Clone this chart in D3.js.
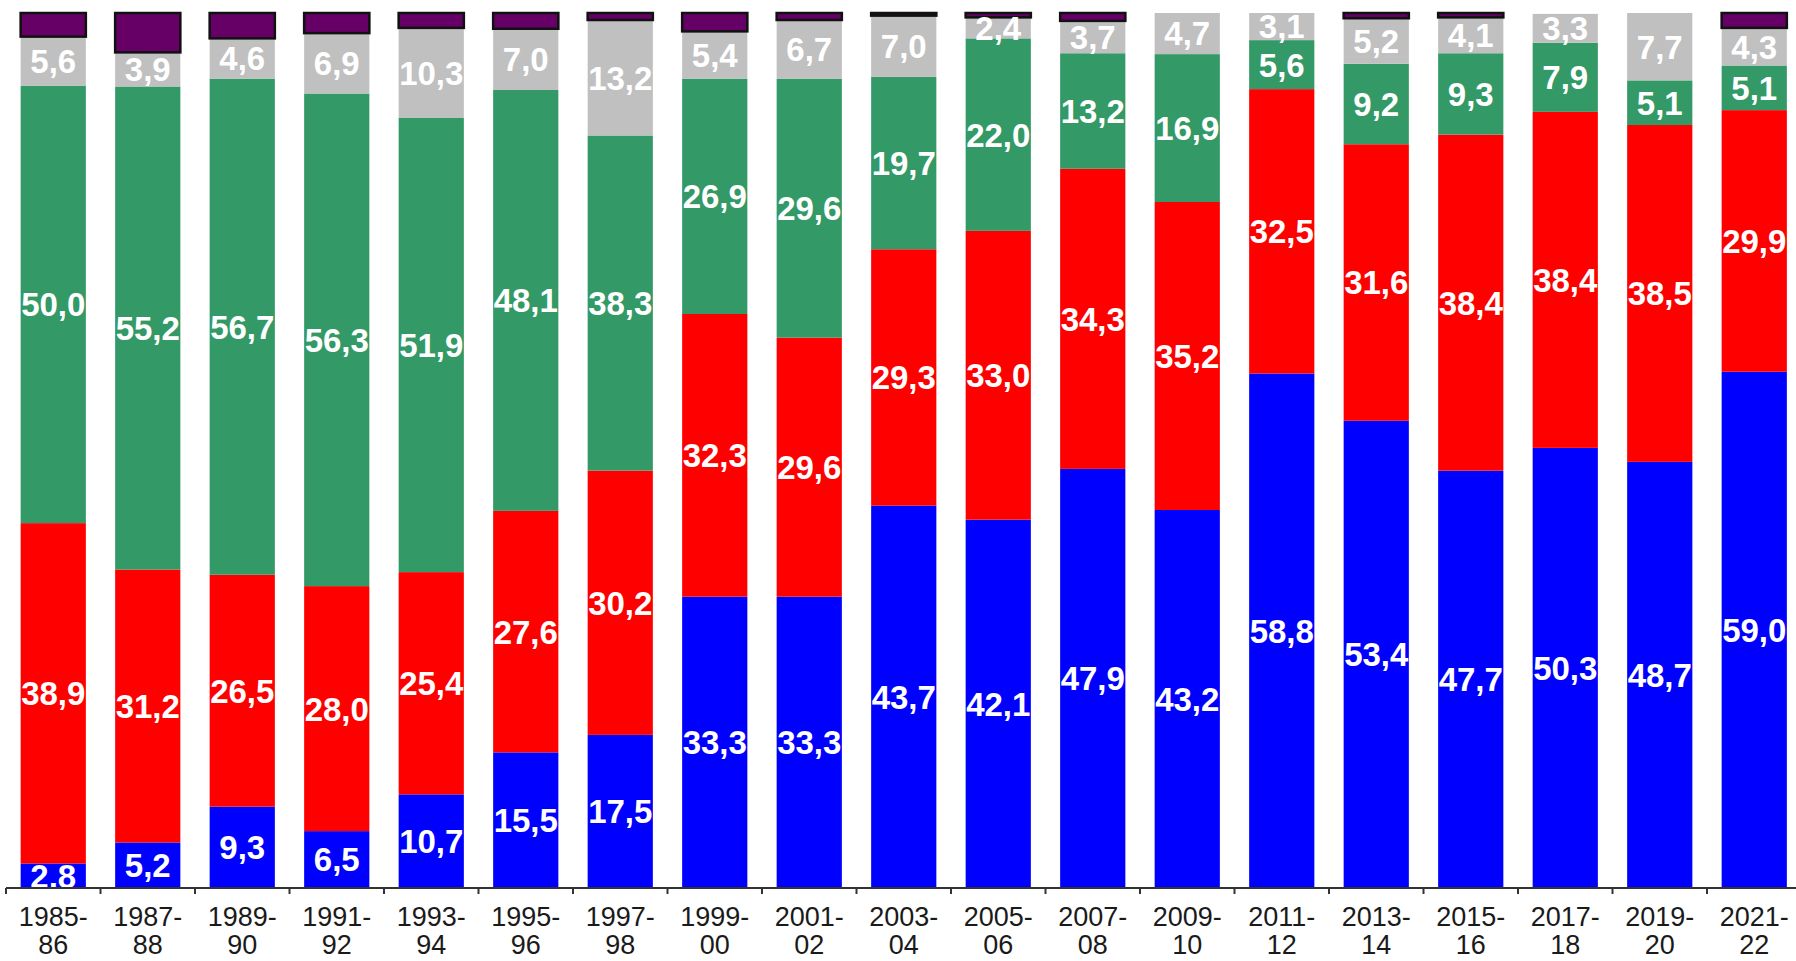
<!DOCTYPE html>
<html>
   <head>
      <script src="https://d3js.org/d3.v7.min.js"></script>
   </head>

   <style>
      body { margin: 0; background: #fff; }
   </style>
   <body>
      <script>
         let [width, height] = [1796, 961];
         let [plotLeft, plotRight, plotTop, plotBottom] = [6, 1801.5, 13, 888];

         let categories = ['1985-86', '1987-88', '1989-90', '1991-92', '1993-94', '1995-96', '1997-98', '1999-00', '2001-02',
            '2003-04', '2005-06', '2007-08', '2009-10', '2011-12', '2013-14', '2015-16', '2017-18', '2019-20', '2021-22'];

         // series from bottom to top
         let blue = [2.8, 5.2, 9.3, 6.5, 10.7, 15.5, 17.5, 33.3, 33.3, 43.7, 42.1, 47.9, 43.2, 58.8, 53.4, 47.7, 50.3, 48.7, 59.0];
         let red = [38.9, 31.2, 26.5, 28.0, 25.4, 27.6, 30.2, 32.3, 29.6, 29.3, 33.0, 34.3, 35.2, 32.5, 31.6, 38.4, 38.4, 38.5, 29.9];
         let green = [50.0, 55.2, 56.7, 56.3, 51.9, 48.1, 38.3, 26.9, 29.6, 19.7, 22.0, 13.2, 16.9, 5.6, 9.2, 9.3, 7.9, 5.1, 5.1];
         let gray = [5.6, 3.9, 4.6, 6.9, 10.3, 7.0, 13.2, 5.4, 6.7, 7.0, 2.4, 3.7, 4.7, 3.1, 5.2, 4.1, 3.3, 7.7, 4.3];
         let purple = [2.7, 4.5, 2.9, 2.3, 1.7, 1.8, 0.8, 2.1, 0.8, 0.3, 0.5, 0.9, 0, 0, 0.6, 0.5, 0, 0, 1.7];

         let keys = ['blue', 'red', 'green', 'gray', 'purple'];
         let colors = ['#0000ff', '#ff0000', '#339966', '#c0c0c0', '#660066'];
         let seriesValues = { blue, red, green, gray, purple };

         let rows = categories.map((c, i) => {
            let row = { cat: c };
            keys.forEach(k => row[k] = seriesValues[k][i]);
            return row;
         });

         let stacked = d3.stack().keys(keys)(rows);

         let x = d3.scaleBand().domain(categories).range([plotLeft, plotRight]).paddingInner(0.31).paddingOuter(0.155);
         let y = d3.scaleLinear().domain([0, 100]).range([plotBottom, plotTop]);
         let color = d3.scaleOrdinal().domain(keys).range(colors);

         let fmt = d3.formatLocale({ decimal: ',', thousands: '.', grouping: [3], currency: ['', ''] }).format('.1f');

         let svg = d3.select('body').append('svg').attr('width', width).attr('height', height)
            .style('font-family', 'Liberation Sans, Arial, sans-serif');

         // clip each label column to its bar
         let defs = svg.append('defs');
         categories.forEach((c, i) => {
            defs.append('clipPath').attr('id', 'clip' + i)
               .append('rect')
               .attr('x', x(c)).attr('y', 0)
               .attr('width', x.bandwidth()).attr('height', plotBottom);
         });

         // Draw bars
         let layers = svg.selectAll('g.layer')
            .data(stacked)
            .enter()
            .append('g')
            .attr('class', 'layer')
            .attr('fill', d => color(d.key));

         layers.selectAll('rect')
            .data(d => d.filter(s => s[1] - s[0] > 0).map(s => Object.assign(s, { key: d.key })))
            .enter()
            .append('rect')
               .attr('x', d => x(d.data.cat))
               .attr('y', d => y(d[1]))
               .attr('width', x.bandwidth())
               .attr('height', d => y(d[0]) - y(d[1]))
               .attr('stroke', d => d.key == 'purple' ? '#111' : 'none')
               .attr('stroke-width', 2.5);

         // value labels (not for the purple series)
         stacked.filter(s => s.key != 'purple').forEach(s => {
            svg.append('g').selectAll('text')
               .data(s)
               .enter()
               .append('text')
               .attr('clip-path', (d, i) => `url(#clip${i})`)
               .attr('x', d => x(d.data.cat) + x.bandwidth() / 2)
               .attr('y', d => (y(d[0]) + y(d[1])) / 2)
               .attr('dy', '0.36em')
               .attr('text-anchor', 'middle')
               .attr('fill', '#fff')
               .style('font-size', '33px')
               .style('font-weight', 'bold')
               .text(d => fmt(d[1] - d[0]));
         });

         // x axis: line with ticks between categories
         let axis = svg.append('g').attr('stroke', '#333').attr('stroke-width', 2);
         axis.append('line')
            .attr('x1', plotLeft).attr('x2', width)
            .attr('y1', plotBottom).attr('y2', plotBottom);

         let gap = x.step() - x.bandwidth();
         axis.selectAll('line.tick')
            .data(categories)
            .enter()
            .append('line')
            .attr('class', 'tick')
            .attr('x1', d => x(d) - gap / 2).attr('x2', d => x(d) - gap / 2)
            .attr('y1', plotBottom).attr('y2', plotBottom + 6);

         let tickLabels = svg.append('g').selectAll('text')
            .data(categories)
            .enter()
            .append('text')
            .attr('text-anchor', 'middle')
            .attr('fill', '#1a1a1a')
            .style('font-size', '27px');

         tickLabels.append('tspan')
            .attr('x', d => x(d) + x.bandwidth() / 2)
            .attr('y', 926)
            .text(d => d.split('-')[0] + '-');
         tickLabels.append('tspan')
            .attr('x', d => x(d) + x.bandwidth() / 2)
            .attr('y', 954)
            .text(d => d.split('-')[1]);
      </script>
   </body>
</html>
